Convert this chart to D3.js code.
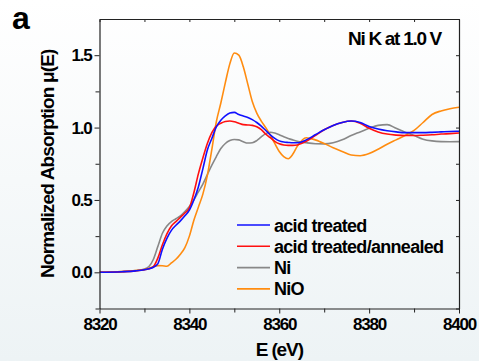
<!DOCTYPE html>
<html>
<head>
<meta charset="utf-8">
<script src="https://cdn.jsdelivr.net/npm/d3@7"></script>
<style>
  html, body { margin: 0; padding: 0; background: #fff; }
  svg { display: block; }
  text { font-family: "Liberation Sans", Arial, sans-serif; font-weight: bold; fill: #000; }
</style>
</head>
<body>
<svg id="chart" width="479" height="361"></svg>
<script>
// Photon energy grid (eV)
const energy = [8320, 8325, 8328, 8330, 8331, 8332, 8333, 8334, 8335, 8336, 8337, 8338, 8339, 8340,
  8341, 8342, 8343, 8344, 8345, 8346, 8347, 8348, 8349, 8350, 8351, 8352, 8353, 8354, 8355, 8356,
  8357, 8358, 8359, 8360, 8361, 8362, 8363, 8364, 8366, 8368, 8370, 8372, 8374, 8376, 8378, 8380,
  8382, 8384, 8386, 8388, 8390, 8392, 8394, 8396, 8398, 8400];

// Normalized absorption for each sample
const acidTreated = [0.000, 0.004, 0.010, 0.018, 0.025, 0.035, 0.060, 0.160, 0.235, 0.290, 0.325, 0.355, 0.390, 0.430,
  0.500, 0.590, 0.715, 0.845, 0.925, 1.005, 1.050, 1.080, 1.100, 1.105, 1.090, 1.080, 1.070, 1.055, 1.035, 1.010,
  0.980, 0.950, 0.925, 0.908, 0.900, 0.897, 0.895, 0.895, 0.915, 0.950, 0.985, 1.015, 1.035, 1.045, 1.035, 1.008,
  0.990, 0.978, 0.970, 0.965, 0.965, 0.965, 0.967, 0.970, 0.973, 0.975];

const acidAnnealed = [0.000, 0.004, 0.010, 0.018, 0.025, 0.040, 0.100, 0.190, 0.265, 0.320, 0.350, 0.380, 0.410, 0.445,
  0.550, 0.680, 0.790, 0.890, 0.965, 1.010, 1.030, 1.042, 1.045, 1.040, 1.030, 1.020, 1.018, 1.015, 1.005, 0.985,
  0.955, 0.930, 0.905, 0.888, 0.880, 0.877, 0.877, 0.880, 0.905, 0.945, 0.985, 1.015, 1.035, 1.045, 1.030, 0.995,
  0.970, 0.955, 0.948, 0.945, 0.945, 0.947, 0.950, 0.955, 0.958, 0.962];

const nickel = [0.000, 0.005, 0.012, 0.022, 0.040, 0.090, 0.180, 0.270, 0.320, 0.350, 0.370, 0.390, 0.420, 0.455,
  0.500, 0.555, 0.610, 0.675, 0.740, 0.800, 0.855, 0.890, 0.910, 0.918, 0.915, 0.902, 0.893, 0.895, 0.910, 0.935,
  0.958, 0.968, 0.962, 0.950, 0.937, 0.925, 0.915, 0.906, 0.895, 0.888, 0.887, 0.895, 0.915, 0.945, 0.970, 0.995,
  1.015, 1.020, 0.995, 0.968, 0.945, 0.920, 0.908, 0.903, 0.902, 0.903];

const nickelOxide = [0.000, 0.005, 0.012, 0.020, 0.026, 0.040, 0.046, 0.045, 0.042, 0.065, 0.090, 0.125, 0.170, 0.250,
  0.360, 0.450, 0.540, 0.670, 0.850, 1.040, 1.170, 1.310, 1.440, 1.515, 1.500, 1.420, 1.300, 1.180, 1.100, 1.045,
  1.000, 0.950, 0.890, 0.835, 0.800, 0.785, 0.815, 0.870, 0.930, 0.915, 0.890, 0.860, 0.835, 0.810, 0.805, 0.820,
  0.850, 0.885, 0.915, 0.945, 0.980, 1.035, 1.090, 1.115, 1.130, 1.140];

const seriesNames = ["acid treated", "acid treated/annealed", "Ni", "NiO"];
const seriesColors = ["#1010ff", "#ff1010", "#888888", "#ff8c10"];
const seriesValues = [acidTreated, acidAnnealed, nickel, nickelOxide];

const xMajorTicks = [8320, 8340, 8360, 8380, 8400];
const xMinorTicks = [8330, 8350, 8370, 8390];
const yMajorTicks = [0.0, 0.5, 1.0, 1.5];
const yMinorTicks = [-0.25, 0.25, 0.75, 1.25];

const svg = d3.select("#chart");
const W = 479, H = 361;
const plot = { left: 99.5, right: 459, top: 19, bottom: 308.5 };

// soft vertical background wash
const defs = svg.append("defs");
const grad = defs.append("linearGradient").attr("id", "bg").attr("x1", 0).attr("y1", 0).attr("x2", 0).attr("y2", 1);
grad.append("stop").attr("offset", "0%").attr("stop-color", "#ffffff");
grad.append("stop").attr("offset", "100%").attr("stop-color", "#edf3f5");
svg.append("rect").attr("width", W).attr("height", H).attr("fill", "url(#bg)");

const x = d3.scaleLinear().domain([8320, 8400]).range([plot.left, plot.right]);
const y = d3.scaleLinear().domain([-0.25, 1.75]).range([plot.bottom, plot.top]);

// clip region for curves
defs.append("clipPath").attr("id", "plotClip").append("rect")
  .attr("x", plot.left).attr("y", plot.top)
  .attr("width", plot.right - plot.left).attr("height", plot.bottom - plot.top);

// curves (Ni and NiO underneath, samples on top)
const line = d3.line().x(d => x(d[0])).y(d => y(d[1])).curve(d3.curveMonotoneX);
const drawOrder = [2, 3, 1, 0];
const curves = svg.append("g").attr("clip-path", "url(#plotClip)");
drawOrder.forEach(i => {
  curves.append("path")
    .datum(energy.map((e, k) => [e, seriesValues[i][k]]))
    .attr("fill", "none")
    .attr("stroke", seriesColors[i])
    .attr("stroke-width", 1.6)
    .attr("stroke-linejoin", "round")
    .attr("d", line);
});

// axes
const axisColor = "#222";
function styleAxis(g) {
  g.select(".domain").attr("stroke", axisColor).attr("stroke-width", 1.2);
  g.selectAll(".tick line").attr("stroke", axisColor).attr("stroke-width", 1);
}

const tickFont = g => g.selectAll("text")
  .style("font-size", "17px").style("letter-spacing", "-1.2px")
  .style("font-family", "'Liberation Sans', Arial, sans-serif").style("font-weight", "bold").attr("fill", "#000");

// bottom axis
svg.append("g").attr("transform", `translate(0,${plot.bottom})`)
  .call(d3.axisBottom(x).tickValues(xMajorTicks).tickFormat(d3.format("d")).tickSize(5).tickPadding(4).tickSizeOuter(0))
  .call(styleAxis).call(tickFont);
svg.append("g").attr("transform", `translate(0,${plot.bottom})`)
  .call(d3.axisBottom(x).tickValues(xMinorTicks).tickFormat("").tickSize(4).tickSizeOuter(0))
  .call(styleAxis).call(g => g.select(".domain").remove());

// left axis
svg.append("g").attr("transform", `translate(${plot.left},0)`)
  .call(d3.axisLeft(y).tickValues(yMajorTicks).tickFormat(d3.format(".1f")).tickSize(5).tickPadding(3).tickSizeOuter(0))
  .call(styleAxis).call(tickFont);
svg.append("g").attr("transform", `translate(${plot.left},0)`)
  .call(d3.axisLeft(y).tickValues(yMinorTicks).tickFormat("").tickSize(4).tickSizeOuter(0))
  .call(styleAxis).call(g => g.select(".domain").remove());

// top axis, inward ticks
svg.append("g").attr("transform", `translate(0,${plot.top})`)
  .call(d3.axisTop(x).tickValues(xMajorTicks.concat(xMinorTicks)).tickFormat("").tickSize(-3).tickSizeOuter(0))
  .call(styleAxis);

// right axis, inward ticks
svg.append("g").attr("transform", `translate(${plot.right},0)`)
  .call(d3.axisRight(y).tickValues(yMajorTicks.concat(yMinorTicks)).tickFormat("").tickSize(-3).tickSizeOuter(0))
  .call(styleAxis);

// axis titles
svg.append("text")
  .attr("transform", `translate(${(plot.left + plot.right) / 2},356)`)
  .attr("text-anchor", "middle")
  .style("font-size", "19px").style("letter-spacing", "-1.1px")
  .text("E (eV)");

svg.append("text")
  .attr("transform", `translate(54,${(plot.top + plot.bottom) / 2}) rotate(-90)`)
  .attr("text-anchor", "middle")
  .style("font-size", "19px").style("letter-spacing", "-0.85px")
  .text("Normalized Absorption \u03bc(E)");

// panel letter and annotation
svg.append("text").attr("x", 12).attr("y", 29)
  .style("font-size", "32px").text("a");

svg.append("text").attr("x", 441).attr("y", 45).attr("text-anchor", "end")
  .style("font-size", "19px").style("letter-spacing", "-1.3px")
  .text("Ni K at 1.0 V");

// legend
const legend = svg.append("g").attr("transform", "translate(237,225)");
seriesNames.forEach((name, i) => {
  const row = legend.append("g").attr("transform", `translate(0,${i * 21.3})`);
  row.append("line").attr("x1", 0).attr("x2", 33).attr("y1", 0).attr("y2", 0)
    .attr("stroke", seriesColors[i]).attr("stroke-width", 1.6);
  row.append("text").attr("x", 37).attr("y", 6.5)
    .style("font-size", "18px").style("letter-spacing", "-0.7px")
    .text(name);
});
</script>
</body>
</html>
